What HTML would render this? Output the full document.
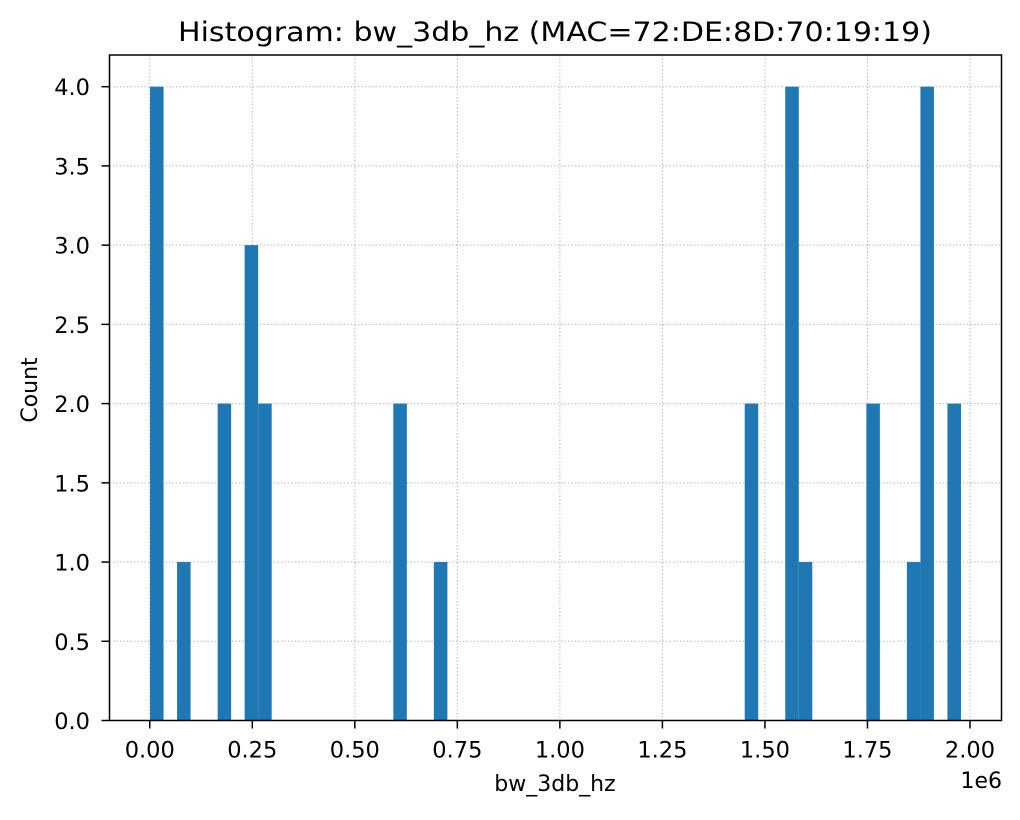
<!DOCTYPE html>
<html><head><meta charset="utf-8"><style>
body{margin:0;background:#fff;}
svg text{font-family:"DejaVu Sans","Liberation Sans",sans-serif;fill:#000;}
</style></head><body>
<svg id="chart" width="1020" height="815" viewBox="0 0 1020 815" xmlns="http://www.w3.org/2000/svg">
<rect width="1020" height="815" fill="#fff"/>
<g id="grid"></g>
<g id="bars"></g>
<rect x="109.5" y="55" width="892" height="665.5" fill="none" stroke="#000" stroke-width="1.5"/>
<g id="xticks"></g>
<g id="yticks"></g>
<text x="555" y="41" font-size="27" text-anchor="middle" textLength="754" lengthAdjust="spacingAndGlyphs">Histogram: bw_3db_hz (MAC=72:DE:8D:70:19:19)</text>
<text x="555" y="791" font-size="22" text-anchor="middle">bw_3db_hz</text>
<text x="37" y="390" font-size="22" text-anchor="middle" transform="rotate(-90 37 390)">Count</text>
<text x="1002" y="788" font-size="22" text-anchor="end">1e6</text>
</svg>
<script>
const binIndex = [0, 2, 5, 7, 8, 18, 21, 44, 47, 48, 53, 56, 57, 59];
const counts = [4, 1, 2, 3, 2, 2, 1, 2, 4, 1, 2, 1, 4, 2];
const xTicks = [0, 0.25, 0.5, 0.75, 1.0, 1.25, 1.5, 1.75, 2.0];
const xTickLabels = ["0.00","0.25","0.50","0.75","1.00","1.25","1.50","1.75","2.00"];
const yTicks = [0, 0.5, 1, 1.5, 2, 2.5, 3, 3.5, 4];
const yTickLabels = ["0.0","0.5","1.0","1.5","2.0","2.5","3.0","3.5","4.0"];
const dataMin = 0.0007, dataMax = 1.978, nBins = 60;

const NS = "http://www.w3.org/2000/svg";
const L = 109.5, R = 1001.5, T = 55, B = 720.5;
const range = dataMax - dataMin;
const xMin = dataMin - 0.05 * range, xMax = dataMax + 0.05 * range;
const yMax = Math.max(...counts) * 1.05;
const xs = v => L + (v - xMin) / (xMax - xMin) * (R - L);
const ys = v => B - v / yMax * (B - T);
const binW = range / nBins;

const grid = document.getElementById('grid');
const bars = document.getElementById('bars');
const xg = document.getElementById('xticks');
const yg = document.getElementById('yticks');
function mk(tag, attrs, parent) {
  const e = document.createElementNS(NS, tag);
  for (const k in attrs) e.setAttribute(k, attrs[k]);
  parent.appendChild(e);
  return e;
}
xTicks.forEach((t, i) => {
  const x = xs(t);
  const g = mk('line', {x1: x, x2: x, y1: T, y2: B, stroke: '#b0b0b0', 'stroke-width': 1, 'stroke-dasharray': '1.3,2.2'}, grid);
  
  
  const tk = mk('line', {x1: x, x2: x, y1: B, y2: B + 8, stroke: '#000', 'stroke-width': 1.5}, xg);
  
  
  const tx = mk('text', {x: x, y: 757.5, 'font-size': 22.5, 'text-anchor': 'middle'}, xg);
  tx.textContent = xTickLabels[i];
  
  
});
yTicks.forEach((t, i) => {
  const y = ys(t);
  const g = mk('line', {x1: L, x2: R, y1: y, y2: y, stroke: '#b0b0b0', 'stroke-width': 1, 'stroke-dasharray': '1.3,2.2'}, grid);
  
  
  const tk = mk('line', {x1: L - 8, x2: L, y1: y, y2: y, stroke: '#000', 'stroke-width': 1.5}, yg);
  
  
  const tx = mk('text', {x: 90, y: y + 8.5, 'font-size': 22.5, 'text-anchor': 'end'}, yg);
  tx.textContent = yTickLabels[i];
  
  
});
binIndex.forEach((b, i) => {
  const x0 = xs(dataMin + b * binW), x1 = xs(dataMin + (b + 1) * binW);
  const r = mk('rect', {x: x0, y: ys(counts[i]), width: x1 - x0, height: ys(0) - ys(counts[i]), fill: '#1f77b4'}, bars);
  
  
});
</script>
</body></html>
